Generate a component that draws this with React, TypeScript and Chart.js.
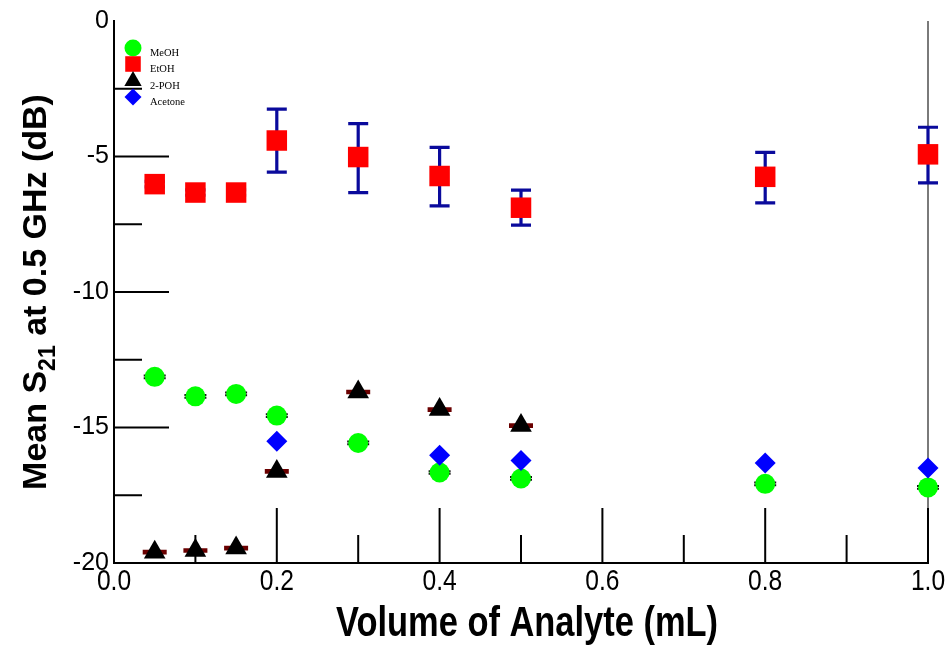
import React, { useEffect, useRef } from 'react';
import { Chart, registerables } from 'chart.js';
import { drawPoint } from 'chart.js/helpers';

Chart.register(...registerables);

// ---- data ----
const volumes = [0.05, 0.1, 0.15, 0.2, 0.3, 0.4, 0.5, 0.8, 1.0];
const meoh = [-13.13, -13.85, -13.76, -14.56, -15.57, -16.66, -16.88, -17.08, -17.21];
const meohErr = [0.05, 0.05, 0.05, 0.05, 0.05, 0.05, 0.05, 0.05, 0.05];
const etoh = [-6.02, -6.33, -6.33, -4.41, -5.02, -5.72, -6.89, -5.75, -4.92];
const etohErrUp = [0.1, 0.1, 0.1, 1.16, 1.23, 1.06, 0.65, 0.9, 1.0];
const etohErrDown = [0.1, 0.1, 0.1, 1.17, 1.31, 1.1, 0.64, 0.96, 1.05];
const poh = [-19.6, -19.54, -19.45, -16.62, -13.69, -14.34, -14.93, null, null];
const pohErr = [0.03, 0.03, 0.03, 0.03, 0.03, 0.03, 0.03, null, null];
const acetone = [null, null, null, -15.51, null, -16.02, -16.22, -16.31, -16.49];
const xTickValues = [0.0, 0.2, 0.4, 0.6, 0.8, 1.0];
const yTickValues = [0, -5, -10, -15, -20];
const seriesNames = ['MeOH', 'EtOH', '2-POH', 'Acetone'];

const toPoints = (vals: (number | null)[]) =>
  volumes
    .map((x, i) => ({ x, y: vals[i] }))
    .filter((p) => p.y !== null) as { x: number; y: number }[];

const toErr = (vals: (number | null)[], up: (number | null)[], down: (number | null)[]) =>
  volumes
    .map((x, i) => ({ x, y: vals[i], up: up[i], down: down[i] }))
    .filter((p) => p.y !== null);

const SANS = '"Liberation Sans", Arial, sans-serif';
const NARROW_SCALE = 0.82;

const rightBorderPlugin = {
  id: 'rightBorder',
  beforeDatasetsDraw(chart: any) {
    const { ctx, chartArea } = chart;
    ctx.save();
    ctx.strokeStyle = '#7a7a7a';
    ctx.lineWidth = 2;
    ctx.beginPath();
    ctx.moveTo(chartArea.right, chartArea.top);
    ctx.lineTo(chartArea.right, chartArea.bottom);
    ctx.stroke();
    ctx.restore();
  },
};

const errorBarPlugin = {
  id: 'errorBars',
  beforeDatasetsDraw(chart: any) {
    const { ctx, scales } = chart;
    const xs = scales.x;
    const ys = scales.y;
    const sets = [
      { data: toErr(etoh, etohErrUp, etohErrDown), color: '#0a0a9c', lw: 3.2, cap: 10 },
      { data: toErr(meoh, meohErr, meohErr), color: '#111111', lw: 2, cap: 11 },
      { data: toErr(poh, pohErr, pohErr), color: '#6a0000', lw: 3, cap: 12 },
    ];
    ctx.save();
    for (const s of sets) {
      ctx.strokeStyle = s.color;
      ctx.lineWidth = s.lw;
      ctx.lineCap = 'butt';
      for (const p of s.data as any[]) {
        const px = xs.getPixelForValue(p.x);
        const top = ys.getPixelForValue(p.y + p.up);
        const bot = ys.getPixelForValue(p.y - p.down);
        ctx.beginPath();
        ctx.moveTo(px, top);
        ctx.lineTo(px, bot);
        ctx.moveTo(px - s.cap, top);
        ctx.lineTo(px + s.cap, top);
        ctx.moveTo(px - s.cap, bot);
        ctx.lineTo(px + s.cap, bot);
        ctx.stroke();
      }
    }
    ctx.restore();
  },
};

const framePlugin = {
  id: 'frame',
  afterDatasetsDraw(chart: any) {
    const { ctx, chartArea, scales } = chart;
    const xs = scales.x;
    const ys = scales.y;
    ctx.save();
    ctx.strokeStyle = '#000';
    ctx.lineWidth = 2;
    ctx.beginPath();
    for (let k = 1; k < 8; k++) {
      const v = -2.5 * k;
      const py = ys.getPixelForValue(v);
      const len = k % 2 === 0 ? 55 : 28;
      ctx.moveTo(chartArea.left, py);
      ctx.lineTo(chartArea.left + len, py);
    }
    for (let k = 1; k <= 10; k++) {
      const v = k / 10;
      const px = xs.getPixelForValue(v);
      const len = k % 2 === 0 ? 55 : 28;
      ctx.moveTo(px, chartArea.bottom);
      ctx.lineTo(px, chartArea.bottom - len);
    }
    ctx.stroke();
    ctx.restore();
  },
};

const textPlugin = {
  id: 'texts',
  afterDraw(chart: any) {
    const { ctx, chartArea, scales } = chart;
    const xs = scales.x;
    ctx.save();
    ctx.fillStyle = '#000';
    // x tick labels (narrow)
    ctx.font = `30px ${SANS}`;
    ctx.textAlign = 'center';
    ctx.textBaseline = 'alphabetic';
    for (const v of xTickValues) {
      const px = xs.getPixelForValue(v);
      ctx.save();
      ctx.translate(px, chartArea.bottom + 27);
      ctx.scale(NARROW_SCALE, 1);
      ctx.fillText(v.toFixed(1), 0, 0);
      ctx.restore();
    }
    // x title (narrow bold)
    ctx.save();
    ctx.font = `bold 42px ${SANS}`;
    ctx.translate((chartArea.left + chartArea.right) / 2 + 6, 636);
    ctx.scale(NARROW_SCALE, 1);
    ctx.fillText('Volume of Analyte (mL)', 0, 0);
    ctx.restore();
    // y title with subscript
    ctx.save();
    ctx.translate(46, (chartArea.top + chartArea.bottom) / 2);
    ctx.rotate(-Math.PI / 2);
    const big = `bold 34px ${SANS}`;
    const small = `bold 23px ${SANS}`;
    const parts: [string, string, number][] = [
      ['Mean S', big, 0],
      ['21', small, 9],
      [' at 0.5 GHz (dB)', big, 0],
    ];
    let total = 0;
    for (const [t, f] of parts) {
      ctx.font = f;
      total += ctx.measureText(t).width;
    }
    let x = -total / 2;
    ctx.textAlign = 'left';
    for (const [t, f, dy] of parts) {
      ctx.font = f;
      ctx.fillText(t, x, dy);
      x += ctx.measureText(t).width;
    }
    ctx.restore();
    ctx.restore();
  },
};

const legendStyles = [
  { style: 'circle', color: '#00ff00', r: 8.5 },
  { style: 'rect', color: '#ff0000', r: 11 },
  { style: 'triangle', color: '#000000', r: 10 },
  { style: 'rectRot', color: '#0000ff', r: 8.5 },
];

const legendPlugin = {
  id: 'customLegend',
  afterDraw(chart: any) {
    const { ctx, chartArea } = chart;
    const x0 = chartArea.left + 19;
    const ys = [48, 64, 81, 97];
    ctx.save();
    legendStyles.forEach((it, i) => {
      ctx.fillStyle = it.color;
      ctx.strokeStyle = it.color;
      drawPoint(ctx, { pointStyle: it.style as any, radius: it.r, rotation: 0, borderWidth: 0 } as any, x0, ys[i]);
      ctx.fillStyle = '#000';
      ctx.font = '10.5px "Liberation Serif", "Times New Roman", serif';
      ctx.textAlign = 'left';
      ctx.textBaseline = 'middle';
      ctx.fillText(seriesNames[i], x0 + 17, ys[i] + 5);
    });
    ctx.restore();
  },
};

export default function App() {
  const ref = useRef<HTMLCanvasElement>(null);
  useEffect(() => {
    if (!ref.current) return;
    const chart = new Chart(ref.current, {
      type: 'scatter',
      data: {
        datasets: [
          {
            label: seriesNames[0],
            data: toPoints(meoh),
            pointStyle: 'circle',
            pointRadius: 10,
            backgroundColor: '#00ff00',
            borderColor: '#00ff00',
            borderWidth: 0,
            clip: false,
            order: 3,
          },
          {
            label: seriesNames[1],
            data: toPoints(etoh),
            pointStyle: 'rect',
            pointRadius: 14.5,
            backgroundColor: '#ff0000',
            borderColor: '#ff0000',
            borderWidth: 0,
            clip: false,
            order: 2,
          },
          {
            label: seriesNames[2],
            data: toPoints(poh),
            pointStyle: 'triangle',
            pointRadius: 12.5,
            backgroundColor: '#000000',
            borderColor: '#000000',
            borderWidth: 0,
            clip: false,
            order: 1,
          },
          {
            label: seriesNames[3],
            data: toPoints(acetone),
            pointStyle: 'rectRot',
            pointRadius: 10.5,
            backgroundColor: '#0000ff',
            borderColor: '#0000ff',
            borderWidth: 0,
            clip: false,
            order: 0,
          },
        ],
      },
      options: {
        animation: false,
        responsive: false,
        maintainAspectRatio: false,
        layout: { padding: { top: 21, right: 20, left: 0, bottom: 0 } },
        plugins: {
          legend: { display: false },
          tooltip: { enabled: false },
        },
        scales: {
          x: {
            type: 'linear',
            min: 0,
            max: 1,
            afterBuildTicks(scale: any) {
              scale.ticks = xTickValues.map((v) => ({ value: v }));
            },
            afterFit(scale: any) {
              scale.height = 85;
            },
            ticks: { display: false },
            grid: { display: true, drawOnChartArea: false, drawTicks: false },
            border: { display: true, color: '#000', width: 2 },
          },
          y: {
            type: 'linear',
            min: -20,
            max: 0,
            afterBuildTicks(scale: any) {
              scale.ticks = yTickValues.map((v) => ({ value: v }));
            },
            afterFit(scale: any) {
              scale.width = 114;
            },
            ticks: {
              color: '#000',
              font: { family: SANS, size: 25 },
              padding: 5,
              callback: (v: any) => String(v),
            },
            grid: { display: true, drawOnChartArea: false, drawTicks: false },
            border: { display: true, color: '#000', width: 2 },
          },
        },
      },
      plugins: [rightBorderPlugin, errorBarPlugin, framePlugin, textPlugin, legendPlugin],
    });
    return () => chart.destroy();
  }, []);
  return (
    <div style={{ position: 'fixed', left: 0, top: 0, width: 948, height: 648, background: '#fff' }}>
      <canvas ref={ref} width={948} height={648} style={{ width: 948, height: 648 }} />
    </div>
  );
}
